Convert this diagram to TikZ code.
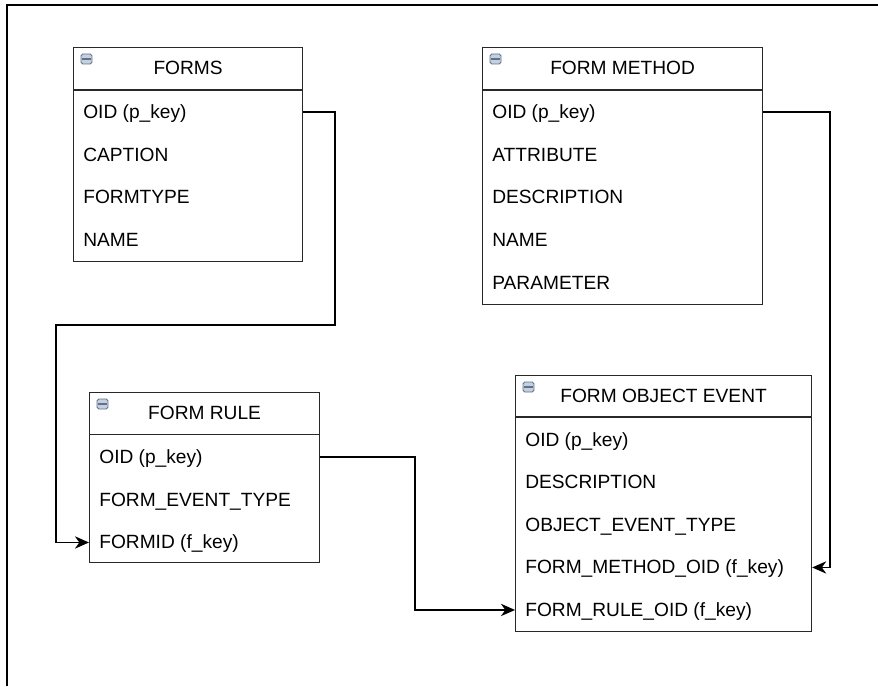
\documentclass[tikz,border=0pt]{standalone}
\usepackage{fontspec}
\setmainfont{Liberation Sans}
\usetikzlibrary{arrows.meta,positioning}
\definecolor{iconfill}{RGB}{196,208,224}
\definecolor{iconline}{RGB}{96,112,136}
\definecolor{boxline}{RGB}{40,40,40}
\tikzstyle{table} = [rectangle, draw=boxline, line width=0.7pt, anchor=north west, inner sep=0pt]
\tikzstyle{headline} = [draw=boxline, line width=0.7pt]
\tikzstyle{title} = [inner sep=0pt, text height=0.716em, text depth=0pt, font=\fontsize{10.9}{13}\selectfont]
\tikzstyle{field} = [anchor=west, inner sep=0pt, text height=0.716em, text depth=0pt, font=\fontsize{10.9}{13}\selectfont]
\tikzstyle{icon} = [rectangle, rounded corners=1pt, draw=iconline, fill=iconfill, line width=0.5pt, minimum width=0.22cm, minimum height=0.2cm, inner sep=0pt,
  path picture={\draw[iconline, line width=0.8pt] ([xshift=-2.4pt]path picture bounding box.center) -- ([xshift=2.4pt]path picture bounding box.center);}]
\tikzstyle{arrow} = [line width=0.7pt, ->, >={Stealth[length=8pt, width=7pt, inset=2.5pt]}]

\begin{document}
\begin{tikzpicture}[x=0.02cm, y=-0.02cm]
    \useasboundingbox (0,0) rectangle (878,686);
    % frame
    \draw[line width=1.2pt] (878,5) -- (7,5) -- (7,686);

    % FORMS
    \node[table, minimum width=4.58cm, minimum height=4.28cm] (forms) at (73,47) {};
    \draw[headline] ([yshift=-0.86cm]forms.north west) -- ([yshift=-0.86cm]forms.north east);
    \node[icon] (forms-icon) at ([xshift=0.27cm, yshift=-0.24cm]forms.north west) {};
    \node[title] (forms-title) at ([yshift=-0.43cm]forms.north) {FORMS};
    \foreach \f [count=\i] in {OID (p\_key), CAPTION, FORMTYPE, NAME}
        \node[field] (forms-\i) at ([xshift=0.2cm, yshift=-1.3cm-(\i-1)*0.855cm]forms.north west) {\f};

    % FORM METHOD
    \node[table, minimum width=5.6cm, minimum height=5.14cm] (formmethod) at (482,47) {};
    \draw[headline] ([yshift=-0.86cm]formmethod.north west) -- ([yshift=-0.86cm]formmethod.north east);
    \node[icon] (formmethod-icon) at ([xshift=0.27cm, yshift=-0.24cm]formmethod.north west) {};
    \node[title] (formmethod-title) at ([yshift=-0.43cm]formmethod.north) {FORM METHOD};
    \foreach \f [count=\i] in {OID (p\_key), ATTRIBUTE, DESCRIPTION, NAME, PARAMETER}
        \node[field] (formmethod-\i) at ([xshift=0.2cm, yshift=-1.3cm-(\i-1)*0.855cm]formmethod.north west) {\f};

    % FORM RULE
    \node[table, minimum width=4.6cm, minimum height=3.4cm] (formrule) at (89,392) {};
    \draw[headline] ([yshift=-0.85cm]formrule.north west) -- ([yshift=-0.85cm]formrule.north east);
    \node[icon] (formrule-icon) at ([xshift=0.27cm, yshift=-0.24cm]formrule.north west) {};
    \node[title] (formrule-title) at ([yshift=-0.43cm]formrule.north) {FORM RULE};
    \foreach \f [count=\i] in {OID (p\_key), FORM\_EVENT\_TYPE, FORMID (f\_key)}
        \node[field] (formrule-\i) at ([xshift=0.2cm, yshift=-1.3cm-(\i-1)*0.855cm]formrule.north west) {\f};

    % FORM OBJECT EVENT
    \node[table, minimum width=5.92cm, minimum height=5.12cm] (formobj) at (515,375) {};
    \draw[headline] ([yshift=-0.84cm]formobj.north west) -- ([yshift=-0.84cm]formobj.north east);
    \node[icon] (formobj-icon) at ([xshift=0.27cm, yshift=-0.24cm]formobj.north west) {};
    \node[title] (formobj-title) at ([yshift=-0.43cm]formobj.north) {FORM OBJECT EVENT};
    \foreach \f [count=\i] in {OID (p\_key), DESCRIPTION, OBJECT\_EVENT\_TYPE, FORM\_METHOD\_OID (f\_key), FORM\_RULE\_OID (f\_key)}
        \node[field] (formobj-\i) at ([xshift=0.2cm, yshift=-1.3cm-(\i-1)*0.85cm]formobj.north west) {\f};

    % links
    \coordinate (bend-a) at (335,325);
    \coordinate (bend-b) at (56,325);
    \coordinate (bend-c) at (830,340);
    \coordinate (bend-d) at (415,530);
    \draw[arrow] (forms-1 -| forms.east) -| (bend-a) -- (bend-b) |- (formrule-3 -| formrule.west);
    \draw[arrow] (formmethod-1 -| formmethod.east) -| (bend-c) |- (formobj-4 -| formobj.east);
    \draw[arrow] (formrule-1 -| formrule.east) -| (bend-d) |- (formobj-5 -| formobj.west);
\end{tikzpicture}
\end{document}
